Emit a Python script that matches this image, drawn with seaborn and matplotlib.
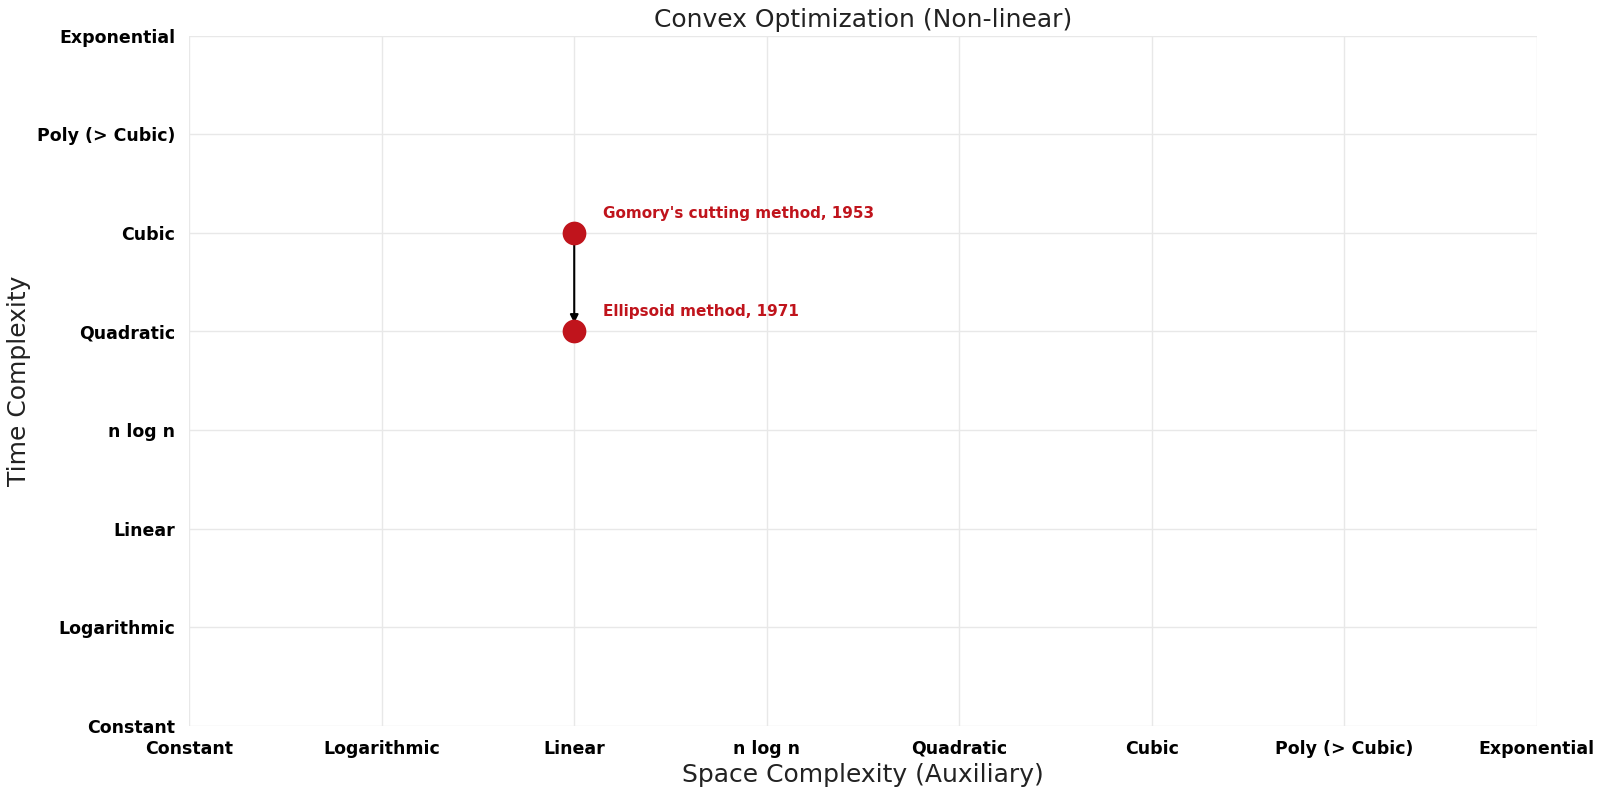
import matplotlib
matplotlib.use("Agg")
import matplotlib.pyplot as plt
import seaborn as sns
import pandas as pd

levels = ["Constant", "Logarithmic", "Linear", "n log n", "Quadratic",
          "Cubic", "Poly (> Cubic)", "Exponential"]
names = ["Gomory's cutting method, 1953", "Ellipsoid method, 1971"]
space = ["Linear", "Linear"]
time = ["Cubic", "Quadratic"]

df = pd.DataFrame({
    "name": names,
    "x": [levels.index(s) for s in space],
    "y": [levels.index(t) for t in time],
})

sns.set_theme(style="whitegrid")
plt.rcParams['font.family'] = ['DejaVu Sans']

fig, ax = plt.subplots(figsize=(16.04, 7.94), dpi=100)
fig.subplots_adjust(left=0.118, right=0.958, top=0.955, bottom=0.086)

red = "#c0141c"
sns.scatterplot(data=df, x="x", y="y", ax=ax, color=red, s=250,
                edgecolor=red, zorder=3, legend=False)

for i in range(len(df) - 1):
    ax.annotate("", xy=(df.x[i + 1], df.y[i + 1]), xytext=(df.x[i], df.y[i]),
                arrowprops=dict(arrowstyle="-|>", color="black", lw=1.5,
                                shrinkA=6, shrinkB=6, mutation_scale=12),
                zorder=2)

for _, r in df.iterrows():
    ax.annotate(r["name"], xy=(r.x, r.y), xytext=(21, 14),
                textcoords="offset points", color=red, fontsize=11,
                fontweight="bold", va="center", ha="left")

ax.set_xlim(0, 7)
ax.set_ylim(0, 7)
ax.set_xticks(range(8))
ax.set_yticks(range(8))
ax.set_xticklabels(levels, fontsize=12.5, fontweight="bold", color="black")
ax.set_yticklabels(levels, fontsize=12.5, fontweight="bold", color="black")
ax.set_xlabel("Space Complexity (Auxiliary)", fontsize=18, color="#222222")
ax.set_ylabel("Time Complexity", fontsize=18, color="#222222")
ax.set_title("Convex Optimization (Non-linear)", fontsize=18, color="#222222")
ax.grid(True, color="#e8e8e8", lw=1)
for s in ax.spines.values():
    s.set_visible(False)
ax.tick_params(axis="y", length=0, pad=10)
ax.tick_params(axis="x", length=0, pad=10)

fig.savefig("out.png", dpi=100)
